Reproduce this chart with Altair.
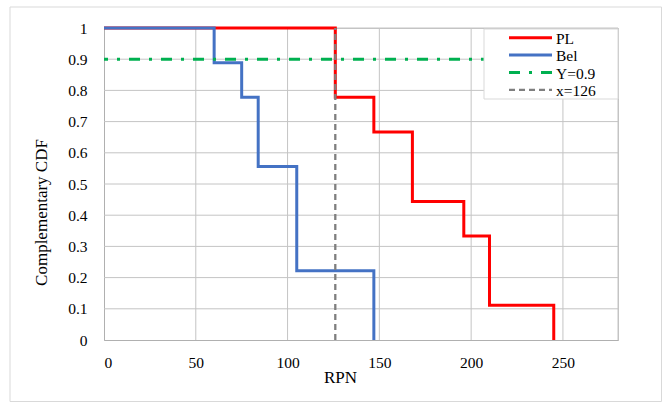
import altair as alt
import pandas as pd

# ---- data ----
series_names = ["PL", "Bel", "Y=0.9", "x=126"]
series_colors = ["#FF0000", "#4472C4", "#00B050", "#7F7F7F"]
series_dashes = [[1, 0], [1, 0], [11, 9, 3, 9], [6, 4]]
series_widths = [3, 3, 3, 2.3]

pl_x = [0, 126, 147, 168, 196, 210, 245]
pl_y = [1, 0.778, 0.667, 0.444, 0.333, 0.111, 0]

bel_x = [0, 60, 75, 84, 105, 147]
bel_y = [1, 0.889, 0.778, 0.556, 0.222, 0]

hline_x = [0, 280]
hline_y = [0.9, 0.9]

vline_x = [126, 126]
vline_y = [0, 1]

x_ticks = [0, 50, 100, 150, 200, 250]
y_ticks = [0, 0.1, 0.2, 0.3, 0.4, 0.5, 0.6, 0.7, 0.8, 0.9, 1]
x_max = 280

FONT = "Liberation Serif"
GRID = "#C4C4C4"
BORDER = "#D9D9D9"

rows = []
for name, xs, ys in [("PL", pl_x, pl_y), ("Bel", bel_x, bel_y),
                     ("Y=0.9", hline_x, hline_y), ("x=126", vline_x, vline_y)]:
    for i, (xv, yv) in enumerate(zip(xs, ys)):
        rows.append({"series": name, "x": xv, "y": yv, "i": i})
df = pd.DataFrame(rows)

x_axis = alt.Axis(values=x_ticks, title="RPN", titleX=236, titleY=42,
                  titleAlign="center", titleBaseline="alphabetic",
                  labelPadding=15, grid=False)
y_axis = alt.Axis(values=y_ticks, format=".1~f", title="Complementary CDF",
                  titleX=-58, titleY=184, titleAngle=270,
                  titleAlign="center", titleBaseline="alphabetic",
                  labelPadding=17, grid=False)
x_scale = alt.Scale(domain=[0, x_max], nice=False)
y_scale = alt.Scale(domain=[0, 1], nice=False)

# grid lines (drawn from tick arrays through the scales)
vgrid = alt.Chart(pd.DataFrame({"x": x_ticks[1:] + [x_max]})).mark_rule(
    color=GRID, strokeWidth=1).encode(
    x=alt.X("x:Q", scale=x_scale, axis=x_axis))
hgrid = alt.Chart(pd.DataFrame({"y": y_ticks[1:]})).mark_rule(
    color=GRID, strokeWidth=1).encode(
    y=alt.Y("y:Q", scale=y_scale, axis=y_axis))

layers = []
for k, name in enumerate(series_names):
    layers.append(
        alt.Chart(df).transform_filter(alt.datum.series == name)
        .mark_line(interpolate="step-after", strokeCap="butt",
                   color=series_colors[k], strokeDash=series_dashes[k],
                   strokeWidth=series_widths[k],
                   strokeDashOffset=7 if name == "Y=0.9" else 0)
        .encode(
            x=alt.X("x:Q", scale=x_scale, axis=x_axis),
            y=alt.Y("y:Q", scale=y_scale, axis=y_axis),
            order="i:Q",
        )
    )

# legend (manual, Excel-like), drawn in pixel space of the plot area
one = pd.DataFrame({"a": [0]})
legend_layers = [
    alt.Chart(one).mark_rect(fill="white", stroke=BORDER, strokeWidth=1).encode(
        x=alt.value(380), x2=alt.value(514), y=alt.value(1), y2=alt.value(71))
]
for k, name in enumerate(series_names):
    py = 9.7 + 17.4 * k
    legend_layers.append(
        alt.Chart(one).mark_rule(strokeCap="butt", color=series_colors[k],
                                 strokeDash=series_dashes[k],
                                 strokeWidth=series_widths[k]).encode(
            x=alt.value(405), x2=alt.value(448), y=alt.value(py))
    )
    legend_layers.append(
        alt.Chart(one).mark_text(align="left", baseline="middle", font=FONT,
                                 fontSize=15.5, color="black", dy=1).encode(
            x=alt.value(452), y=alt.value(py), text=alt.value(name))
    )

outer_border = alt.Chart(one).mark_rect(fillOpacity=0, fill="white", stroke=BORDER,
                                        strokeWidth=1).encode(
    x=alt.value(-94), x2=alt.value(557.5), y=alt.value(-21), y2=alt.value(373.5))

chart = alt.layer(outer_border, vgrid, hgrid, *layers, *legend_layers).properties(
    width=514, height=312,
    background="white",
    autosize=alt.AutoSizeParams(type="none"),
    padding={"left": 104, "top": 28, "right": 44, "bottom": 63},
).configure_view(
    stroke=GRID, strokeWidth=1
).configure_axis(
    domainColor="#B0B0B0", domainWidth=1,
    ticks=False,
    labelFont=FONT, labelFontSize=15.5, labelColor="black",
    titleFont=FONT, titleFontSize=17, titleFontWeight="normal", titleColor="black",
)

chart.save("out.html", embed_options={"renderer": "svg", "actions": False})
